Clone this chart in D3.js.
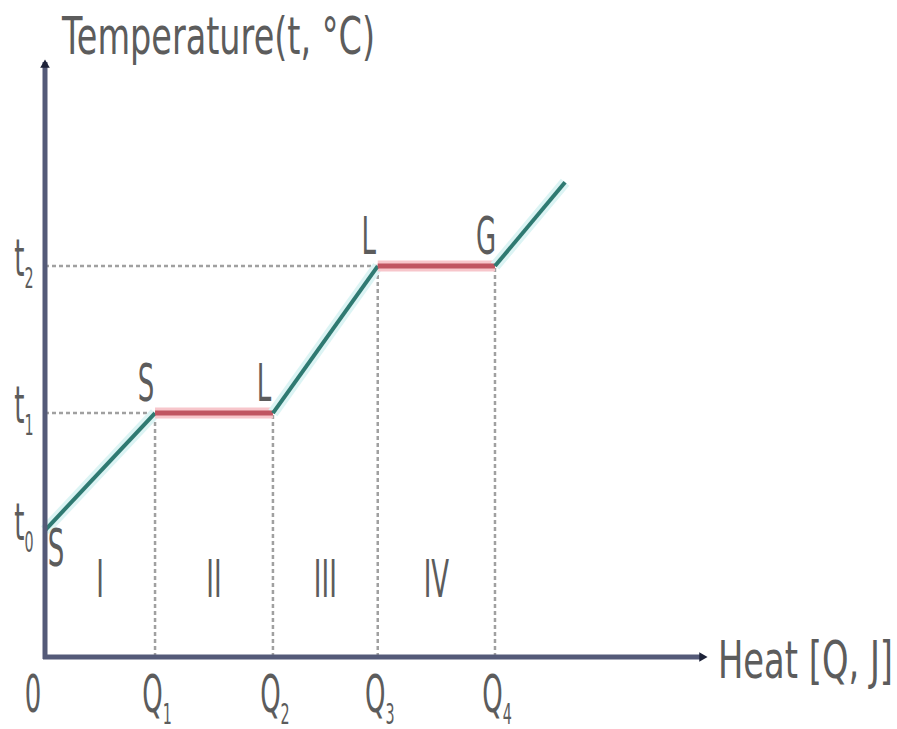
<!DOCTYPE html>
<html>
<head>
<meta charset="utf-8">
<script src="https://cdn.jsdelivr.net/npm/d3@7"></script>
<style>
  body { margin: 0; background: #fff; }
  text { font-family: "DejaVu Sans", sans-serif; fill: #5c5c5c; }
</style>
</head>
<body>
<svg id="chart" width="897" height="729"></svg>
<script>
// heating curve: heat (x) vs temperature (y), arbitrary units 0-100
var heatValues = [0, 16.8, 34.8, 50.8, 68.7, 79.4];
var tempValues = [21.3, 41, 41, 65.7, 65.7, 79.8];
var segPhase = ["heat", "change", "heat", "change", "heat"];
var pointLetters = ["S", "S", "L", "L", "G"];

var heatTicks = ["Q1", "Q2", "Q3", "Q4"];
var heatTickValues = [16.8, 34.8, 50.8, 68.7];
var tempTicks = ["t0", "t1", "t2"];
var tempTickValues = [21.3, 41, 65.7];
var regions = ["I", "II", "III", "IV"];

var svg = d3.select('#chart');
var x = d3.scaleLinear().domain([0, 100]).range([45, 700]);
var y = d3.scaleLinear().domain([0, 100]).range([657, 62]);

var sx = 0.5, fs = 52;

// text with squeezed glyphs, optional subscript
function label(px, py, main, sub, anchor) {
  var g = svg.append('g').attr('transform', 'translate(' + px + ',' + py + ') scale(' + sx + ',1)');
  var t = g.append('text').attr('font-size', fs).attr('text-anchor', anchor || 'middle');
  t.append('tspan').text(main);
  if (sub) t.append('tspan').attr('font-size', fs * 0.55).attr('dy', 12).text(sub);
  return t;
}

// dotted guides
heatTickValues.forEach(function(d, i) {
  svg.append('line')
    .attr('x1', x(d)).attr('x2', x(d))
    .attr('y1', y(0)).attr('y2', y(tempValues[i + 1]))
    .attr('stroke', '#a0a0a0').attr('stroke-width', 2.5).attr('stroke-dasharray', '4,3');
});
tempTickValues.forEach(function(d, i) {
  if (i == 0) return;
  svg.append('line')
    .attr('x1', x(0)).attr('x2', x(heatValues[2 * i - 1]))
    .attr('y1', y(d)).attr('y2', y(d))
    .attr('stroke', '#a0a0a0').attr('stroke-width', 2.5).attr('stroke-dasharray', '4,3');
});

// curve segments
var segs = d3.range(segPhase.length).map(function(i) {
  return { x1: heatValues[i], y1: tempValues[i], x2: heatValues[i + 1], y2: tempValues[i + 1], p: segPhase[i] };
});
svg.selectAll('line.halo').data(segs).enter().append('line')
  .attr('class', 'halo')
  .attr('x1', function(d) { return x(d.x1); }).attr('y1', function(d) { return y(d.y1); })
  .attr('x2', function(d) { return x(d.x2); }).attr('y2', function(d) { return y(d.y2); })
  .attr('stroke', function(d) { return d.p == 'heat' ? '#dcf4f4' : '#f7c6cb'; })
  .attr('stroke-width', 11);
svg.selectAll('line.seg').data(segs).enter().append('line')
  .attr('class', 'seg')
  .attr('x1', function(d) { return x(d.x1); }).attr('y1', function(d) { return y(d.y1); })
  .attr('x2', function(d) { return x(d.x2); }).attr('y2', function(d) { return y(d.y2); })
  .attr('stroke', function(d) { return d.p == 'heat' ? '#2f7a72' : '#c05561'; })
  .attr('stroke-width', function(d) { return d.p == 'heat' ? 4 : 5; });

// axes
svg.append('line').attr('x1', x(0)).attr('x2', x(0)).attr('y1', y(0) + 2).attr('y2', y(100))
  .attr('stroke', '#545a78').attr('stroke-width', 5);
svg.append('line').attr('x1', x(0) - 2).attr('x2', x(100)).attr('y1', y(0)).attr('y2', y(0))
  .attr('stroke', '#545a78').attr('stroke-width', 5);
svg.append('path').attr('d', d3.symbol(d3.symbolTriangle, 40)())
  .attr('transform', 'translate(' + x(0) + ',' + (y(100) + 3) + ')').attr('fill', '#1d2238');
svg.append('path').attr('d', d3.symbol(d3.symbolTriangle, 40)())
  .attr('transform', 'translate(' + (x(100) + 2) + ',' + y(0) + ') rotate(90)').attr('fill', '#1d2238');

// axis titles
label(62, 54, 'Temperature(t, °C)', null, 'start').attr('textLength', 313 / sx).attr('lengthAdjust', 'spacingAndGlyphs');
label(718, 678, 'Heat [Q, J]', null, 'start').attr('textLength', 175 / sx).attr('lengthAdjust', 'spacingAndGlyphs');

// tick labels
label(x(0) - 12, 712, '0');
heatTicks.forEach(function(d, i) {
  label(x(heatTickValues[i]) + 2, 712, d[0], d.slice(1));
});
tempTicks.forEach(function(d, i) {
  label(24, y(tempTickValues[i]) + 10, d[0], d.slice(1));
});

// region numerals
var bounds = [0].concat(heatTickValues);
regions.forEach(function(d, i) {
  label((x(bounds[i]) + x(bounds[i + 1])) / 2, 597, d);
});

// phase letters at the corners
pointLetters.forEach(function(d, i) {
  var px = x(heatValues[i]), py = y(tempValues[i]);
  if (i == 0) label(px + 11, py + 36, d);
  else label(px - 9, py - 12, d);
});
</script>
</body>
</html>
